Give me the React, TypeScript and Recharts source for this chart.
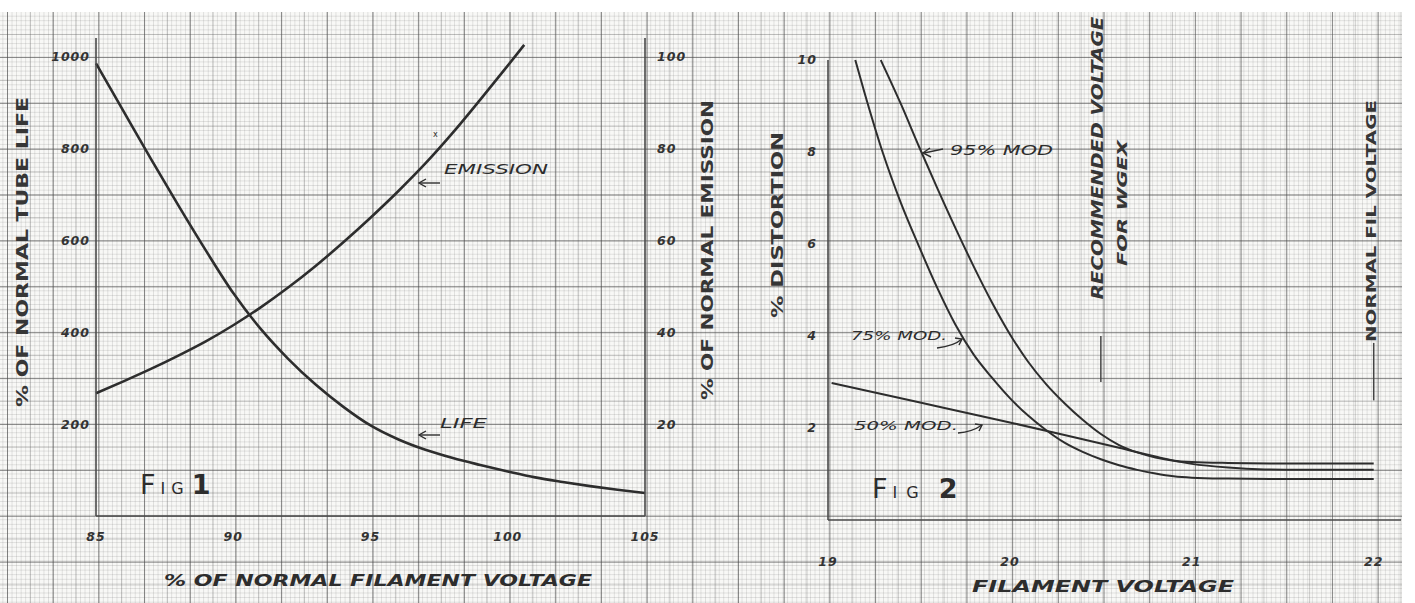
import { LineChart, Line, XAxis, YAxis, ReferenceLine } from "recharts"

// Fig 1 – tube life and emission vs % of normal filament voltage
const voltageTicks = [85, 90, 95, 100, 105]
const lifeTicks = [200, 400, 600, 800, 1000]
const emissionTicks = [20, 40, 60, 80, 100]

const lifeVoltage = [85, 86, 87, 88, 89, 90, 91, 92, 93, 94, 95, 96, 97, 98, 99, 100, 101, 102, 103, 104, 105]
const lifePercent = [985, 881, 777, 676, 578, 485, 407, 342, 286, 238, 197, 167, 144, 126, 111, 97, 84, 74, 65, 57, 50]

const emissionVoltage = [85, 86, 87, 88, 89, 90, 91, 92, 93, 94, 95, 96, 97, 98, 99, 100, 100.6]
const emissionPercent = [26.7, 29.3, 32.0, 34.9, 38.0, 41.5, 45.4, 49.7, 54.4, 59.5, 64.9, 70.6, 76.7, 83.4, 90.6, 98.0, 102.5]

// Fig 2 – % distortion vs filament voltage
const filamentTicks = [19, 20, 21, 22]
const distortionTicks = [2, 4, 6, 8, 10]

const mod95Voltage = [19.29, 19.4, 19.5, 19.6, 19.7, 19.8, 19.9, 20.0, 20.1, 20.2, 20.3, 20.4, 20.5, 20.6, 20.7, 20.8, 20.9, 21.0, 21.2, 21.5, 22.0]
const mod95 = [10, 9.05, 8.12, 7.22, 6.35, 5.52, 4.74, 4.04, 3.44, 2.95, 2.54, 2.18, 1.87, 1.63, 1.47, 1.36, 1.29, 1.26, 1.24, 1.23, 1.23]

const mod75Voltage = [19.15, 19.2, 19.3, 19.4, 19.5, 19.6, 19.7, 19.8, 19.9, 20.0, 20.1, 20.2, 20.3, 20.4, 20.5, 20.6, 20.7, 20.8, 20.9, 21.0, 21.2, 21.5, 22.0]
const mod75 = [10, 9.3, 8.0, 6.9, 5.95, 5.05, 4.25, 3.6, 3.1, 2.65, 2.27, 1.95, 1.68, 1.48, 1.32, 1.19, 1.09, 1.01, 0.95, 0.92, 0.9, 0.89, 0.89]

const mod50Voltage = [19.02, 19.5, 20.0, 20.3, 20.6, 20.8, 21.0, 21.2, 21.4, 21.6, 22.0]
const mod50 = [2.98, 2.56, 2.12, 1.85, 1.57, 1.38, 1.22, 1.14, 1.1, 1.09, 1.09]

const recommendedMark = [{ x: 20.5, y: 4.0 }, { x: 20.5, y: 3.0 }]
const normalFilMark = [{ x: 22.0, y: 3.85 }, { x: 22.0, y: 2.6 }]

type Series = [string, number[], number[]]

function buildRows(series: Series[]) {
  const map = new Map<number, Record<string, number>>()
  series.forEach(([key, xs, ys]) =>
    xs.forEach((x, i) => {
      const row = map.get(x) ?? { v: x }
      row[key] = ys[i]
      map.set(x, row)
    })
  )
  return [...map.values()].sort((a, b) => a.v - b.v)
}

const fig1Rows = buildRows([
  ["life", lifeVoltage, lifePercent],
  ["emission", emissionVoltage, emissionPercent],
])

const fig2Rows = buildRows([
  ["m95", mod95Voltage, mod95],
  ["m75", mod75Voltage, mod75],
  ["m50", mod50Voltage, mod50],
])

const INK = "#2d2d2d"
const FONT = "'DejaVu Sans', sans-serif"
const tickStyle = { fontFamily: FONT, fontSize: 12.5, fontWeight: 700, fontStyle: "italic", fill: "#333", letterSpacing: 1 }
const axisStyle = { stroke: "#4a4a4a", strokeWidth: 1.6 }

const paper = {
  position: "absolute" as const,
  left: 0,
  top: 12,
  width: 1402,
  height: 591,
  backgroundColor: "#f8f8f6",
  backgroundImage: [
    "linear-gradient(to right, rgba(70,70,70,0.5) 0, rgba(70,70,70,0.5) 1px, transparent 1px)",
    "linear-gradient(to bottom, rgba(70,70,70,0.5) 0, rgba(70,70,70,0.5) 1px, transparent 1px)",
    "linear-gradient(to right, rgba(90,90,90,0.28) 0, rgba(90,90,90,0.28) 1px, transparent 1px)",
    "linear-gradient(to bottom, rgba(90,90,90,0.28) 0, rgba(90,90,90,0.28) 1px, transparent 1px)",
    "linear-gradient(to right, rgba(110,110,110,0.19) 0, rgba(110,110,110,0.19) 1px, transparent 1px)",
    "linear-gradient(to bottom, rgba(110,110,110,0.19) 0, rgba(110,110,110,0.19) 1px, transparent 1px)",
  ].join(","),
  backgroundSize: "45.7px 100%, 100% 45.9px, 22.85px 100%, 100% 22.95px, 4.57px 100%, 100% 4.59px",
  backgroundPosition: "7px 0, 0 44.9px, 7px 0, 0 44.9px, 7px 0, 0 44.9px",
}

function VText({ x, y, len, size = 16, bold = true, italic = false, children }: any) {
  return (
    <text
      transform={`translate(${x},${y}) rotate(-90)`}
      textAnchor="middle"
      dominantBaseline="central"
      fontFamily={FONT}
      fontSize={size}
      fontWeight={bold ? 700 : 400}
      fontStyle={italic ? "italic" : "normal"}
      fill="#363636"
      textLength={len}
      lengthAdjust="spacingAndGlyphs"
    >
      {children}
    </text>
  )
}

function HText({ x, y, len, size = 14, bold = false, italic = true, children }: any) {
  return (
    <text
      x={x}
      y={y}
      fontFamily={FONT}
      fontSize={size}
      fontWeight={bold ? 700 : 400}
      fontStyle={italic ? "italic" : "normal"}
      fill={INK}
      textLength={len}
      lengthAdjust="spacingAndGlyphs"
    >
      {children}
    </text>
  )
}

function Arrow({ d, head }: { d: string; head: string }) {
  return (
    <g stroke={INK} strokeWidth={1.4} fill="none">
      <path d={d} />
      <path d={head} />
    </g>
  )
}

function Annotations() {
  return (
    <svg width={1415} height={603} style={{ position: "absolute", left: 0, top: 0, pointerEvents: "none" }}>
      {/* Fig 1 titles */}
      <VText x={22} y={252} len={310} size={16}>% OF NORMAL TUBE LIFE</VText>
      <VText x={707} y={250} len={300} size={16}>% OF NORMAL EMISSION</VText>
      <HText x={164} y={586} len={428} size={16} bold italic>% OF NORMAL FILAMENT VOLTAGE</HText>

      <HText x={444} y={174} len={104} size={14}>EMISSION</HText>
      <Arrow d="M440 183 L420 183" head="M426 179 L419 183 L426 187" />
      <text x={433} y={137} fontFamily={FONT} fontSize={8} fill={INK}>x</text>

      <HText x={440} y={428} len={47} size={14}>LIFE</HText>
      <Arrow d="M440 435 L420 435" head="M426 431 L419 435 L426 439" />

      <text x={140} y={494} fontFamily={FONT} fill={INK}>
        <tspan fontSize={27}>F</tspan>
        <tspan fontSize={16} dx={5}>I</tspan>
        <tspan fontSize={16} dx={6}>G</tspan>
        <tspan fontSize={27} dx={8} fontWeight={700}>1</tspan>
      </text>

      {/* Fig 2 titles */}
      <VText x={777} y={225} len={186} size={16}>% DISTORTION</VText>
      <HText x={972} y={592} len={262} size={16} bold>FILAMENT VOLTAGE</HText>
      <VText x={1098} y={158} len={283} size={15} italic>RECOMMENDED VOLTAGE</VText>
      <VText x={1122} y={203} len={126} size={14} italic>FOR WGEX</VText>
      <VText x={1371} y={221} len={242} size={14}>NORMAL FIL VOLTAGE</VText>

      <HText x={950} y={155} len={103} size={14}>95% MOD</HText>
      <Arrow d="M943 149 L924 153" head="M930 148 L923 153 L931 157" />

      <HText x={851} y={340} len={96} size={13}>75% MOD.</HText>
      <Arrow d="M937 348 Q954 346 962 339" head="M955 338 L962 339 L959 345" />

      <HText x={854} y={430} len={104} size={13}>50% MOD.</HText>
      <Arrow d="M958 433 Q972 432 982 425" head="M975 424 L982 425 L979 431" />

      <text x={872} y={498} fontFamily={FONT} fill={INK}>
        <tspan fontSize={27}>F</tspan>
        <tspan fontSize={16} dx={5}>I</tspan>
        <tspan fontSize={16} dx={9}>G</tspan>
        <tspan fontSize={27} dx={20} fontWeight={700}>2</tspan>
      </text>
    </svg>
  )
}

function FigureOne() {
  return (
    <LineChart width={720} height={603} data={fig1Rows} margin={{ top: 38, right: 25, bottom: 47, left: 36 }}>
      <XAxis
        type="number"
        dataKey="v"
        domain={[85, 105]}
        ticks={voltageTicks}
        height={40}
        axisLine={axisStyle}
        tickLine={false}
        tickSize={6}
        tickMargin={10}
        tick={tickStyle}
      />
      <YAxis
        yAxisId="life"
        domain={[0, 1040]}
        ticks={lifeTicks}
        width={60}
        axisLine={axisStyle}
        tickLine={false}
        tickSize={3}
        tickMargin={3}
        tick={tickStyle}
      />
      <YAxis
        yAxisId="emission"
        orientation="right"
        domain={[0, 104]}
        ticks={emissionTicks}
        width={50}
        axisLine={axisStyle}
        tickLine={false}
        tickSize={6}
        tickMargin={6}
        tick={{ ...tickStyle, textAnchor: "start" }}
      />
      <Line yAxisId="life" dataKey="life" type="monotone" stroke={INK} strokeWidth={2.6} dot={false} connectNulls isAnimationActive={false} />
      <Line yAxisId="emission" dataKey="emission" type="monotone" stroke={INK} strokeWidth={2.6} dot={false} connectNulls isAnimationActive={false} />
    </LineChart>
  )
}

function FigureTwo() {
  return (
    <LineChart width={695} height={603} data={fig2Rows} margin={{ top: 60, right: 14, bottom: 33, left: 58 }}>
      <XAxis
        type="number"
        dataKey="v"
        domain={[19, 22.15]}
        ticks={filamentTicks}
        height={50}
        axisLine={axisStyle}
        tickLine={false}
        tickSize={6}
        tickMargin={31}
        tick={tickStyle}
      />
      <YAxis
        domain={[0, 10]}
        ticks={distortionTicks}
        width={50}
        axisLine={axisStyle}
        tickLine={false}
        tickSize={5}
        tickMargin={6}
        tick={tickStyle}
      />
      <ReferenceLine segment={recommendedMark} stroke="#444" strokeWidth={1.5} />
      <ReferenceLine segment={normalFilMark} stroke="#444" strokeWidth={1.5} />
      <Line dataKey="m95" type="monotone" stroke={INK} strokeWidth={2} dot={false} connectNulls isAnimationActive={false} />
      <Line dataKey="m75" type="monotone" stroke={INK} strokeWidth={2} dot={false} connectNulls isAnimationActive={false} />
      <Line dataKey="m50" type="monotone" stroke={INK} strokeWidth={2} dot={false} connectNulls isAnimationActive={false} />
    </LineChart>
  )
}

export default function App() {
  return (
    <div style={{ position: "absolute", left: 0, top: 0, width: 1415, height: 603, background: "#fff", overflow: "hidden" }}>
      <div style={paper} />
      <div style={{ position: "absolute", left: 0, top: 0 }}>
        <FigureOne />
      </div>
      <div style={{ position: "absolute", left: 720, top: 0 }}>
        <FigureTwo />
      </div>
      <Annotations />
    </div>
  )
}
